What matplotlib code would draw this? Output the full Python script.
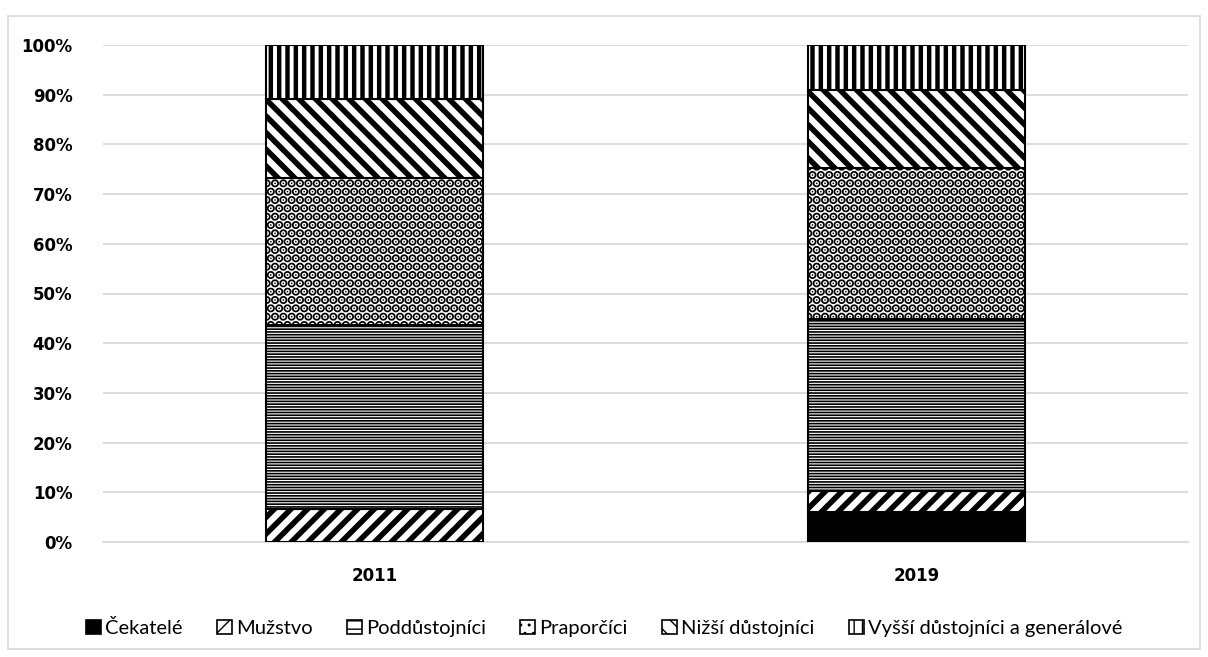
import matplotlib.pyplot as plt
import matplotlib.patches as mpatches
import numpy as np

# Category labels and stacked shares (percent)
years = ["2011", "2019"]
groups = ["Čekatelé", "Mužstvo", "Poddůstojníci", "Praporčíci",
          "Nižší důstojníci", "Vyšší důstojníci a generálové"]
cekatele = [0.0, 6.1]
muzstvo = [6.6, 4.2]
poddustojnici = [37.0, 34.5]
praporcici = [29.6, 30.4]
nizsi = [15.9, 15.7]
vyssi = [10.9, 9.1]

series = [cekatele, muzstvo, poddustojnici, praporcici, nizsi, vyssi]
hatches = [None, "//", "------", "..", "\\\\", "||"]
hatch_lw = [1.0, 4.0, 1.2, 4.5, 4.0, 3.2]

plt.rcParams["font.family"] = ["Lato", "DejaVu Sans"]

fig = plt.figure(figsize=(12.08, 6.57), dpi=100)
ax = fig.add_axes([103 / 1208, 1 - 542 / 657, 1085 / 1208, 497 / 657])

x = np.arange(len(years))
bottom = np.zeros(len(years))
handles = []
for name, vals, h, hlw in zip(groups, series, hatches, hatch_lw):
    vals = np.array(vals)
    with plt.rc_context({"hatch.linewidth": hlw}):
        bars = ax.bar(x, vals, 0.4, bottom=bottom,
                      color="black" if h is None else "white",
                      edgecolor="black", linewidth=1.5, hatch=h, zorder=3)
        for b in bars:
            if hasattr(b, "set_hatch_linewidth"):
                b.set_hatch_linewidth(hlw)
    with plt.rc_context({"hatch.linewidth": 1.5}):
        hp = mpatches.Patch(facecolor="black" if h is None else "white",
                            edgecolor="black", linewidth=1.2,
                            hatch=None if h is None else h[:2], label=name)
        if hasattr(hp, "set_hatch_linewidth"):
            hp.set_hatch_linewidth(1.5)
        handles.append(hp)
    bottom += vals

ax.set_xlim(-0.5, 1.5)
ax.set_ylim(0, 100)
tick_font = dict(family="DejaVu Sans", size=12, weight="bold")
ax.set_yticks(np.arange(0, 101, 10))
ax.set_yticklabels([f"{v}%" for v in range(0, 101, 10)], **tick_font)
ax.set_xticks(x)
ax.set_xticklabels(years, **tick_font)
ax.tick_params(length=0)
ax.tick_params(axis="x", pad=18)
ax.tick_params(axis="y", pad=22)
ax.grid(axis="y", color="#d9d9d9", linewidth=1.3, zorder=0)
for s in ["top", "right", "left"]:
    ax.spines[s].set_visible(False)
ax.spines["bottom"].set_color("#d9d9d9")
ax.spines["bottom"].set_linewidth(1.3)

fig.legend(handles=handles, loc="center", bbox_to_anchor=(0.5, 1 - 628 / 657),
           ncol=6, frameon=False, fontsize=14.5, handlelength=0.75, handleheight=0.75,
           handletextpad=0.2, columnspacing=1.7)

# outer chart border
fig.add_artist(mpatches.Rectangle((8 / 1208, 1 - 649 / 657), 1192 / 1208, 633 / 657,
                                  transform=fig.transFigure, fill=False,
                                  edgecolor="#d9d9d9", linewidth=1.2))

fig.savefig("out.png", dpi=100)
